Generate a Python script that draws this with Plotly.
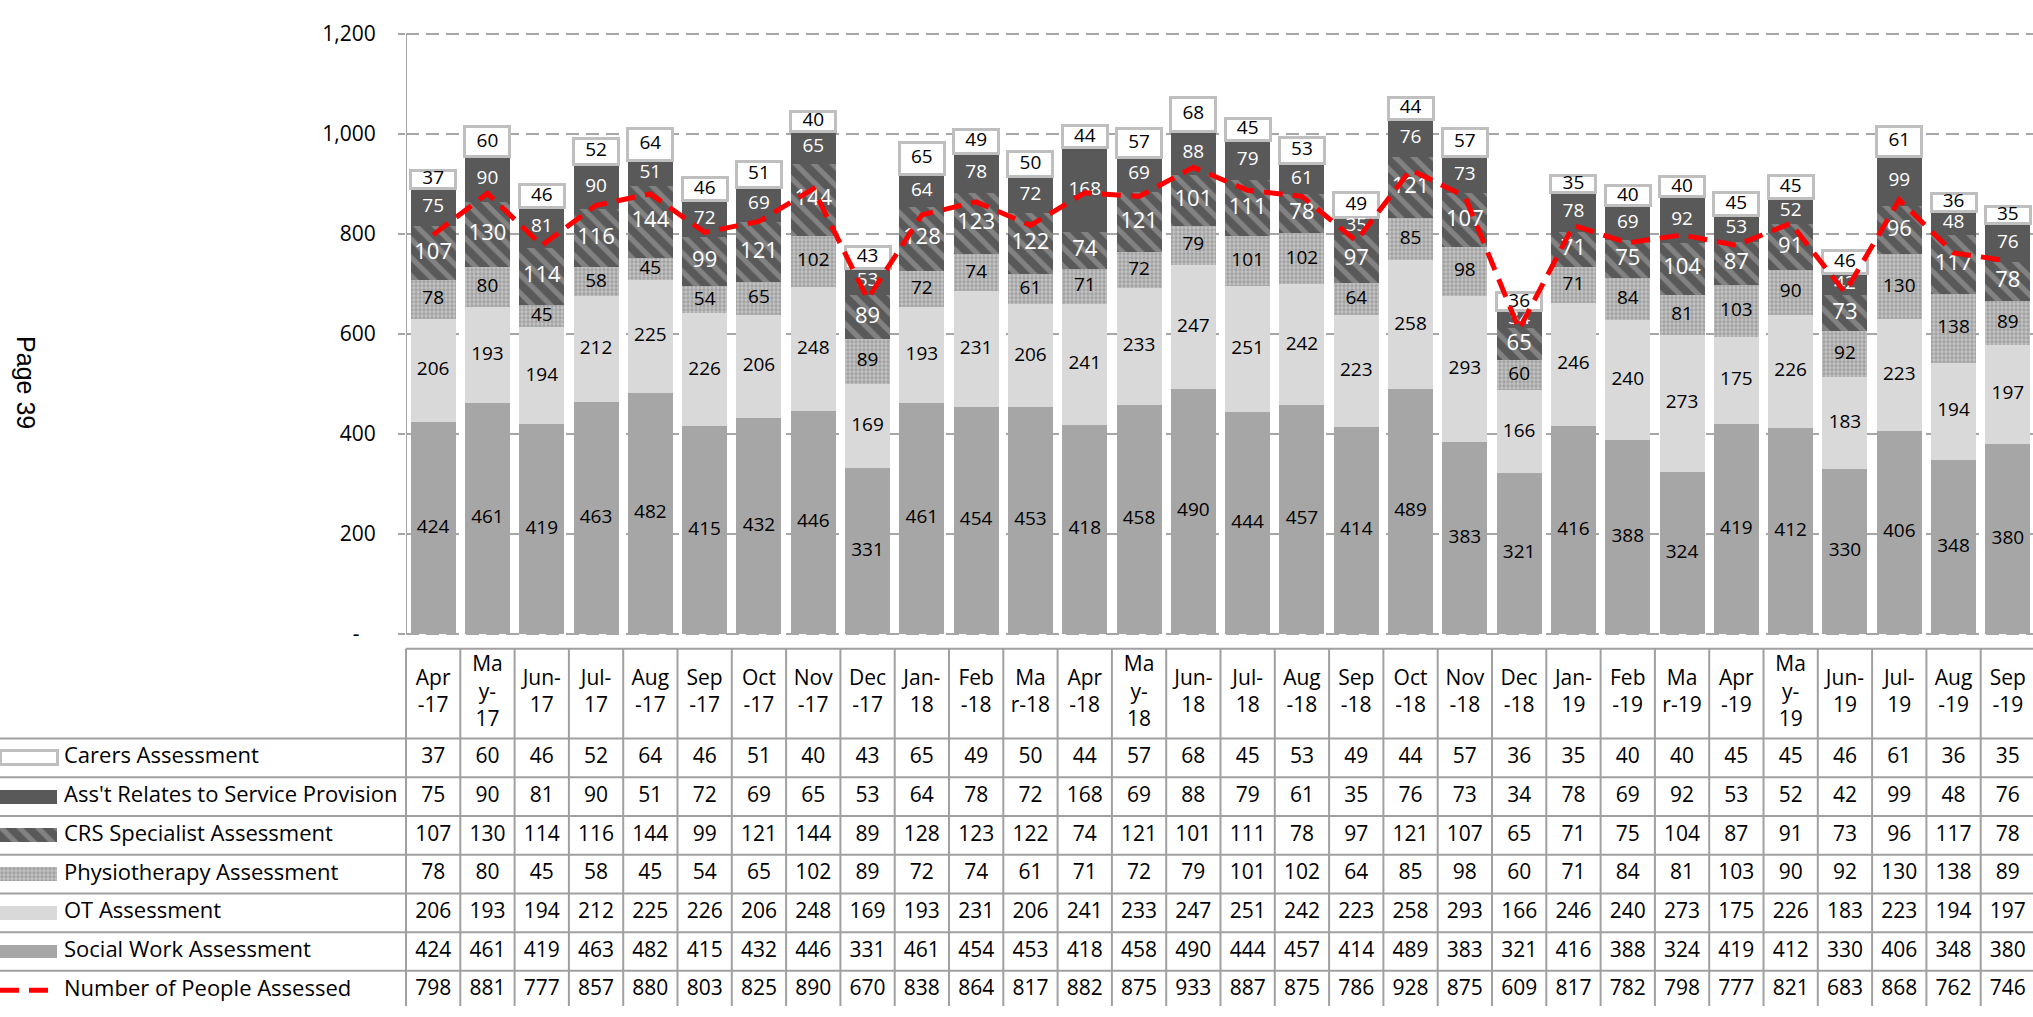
import numpy as np
import plotly.graph_objects as go

# ---------------- data ----------------
months = ["Apr-17", "May-17", "Jun-17", "Jul-17", "Aug-17", "Sep-17", "Oct-17", "Nov-17", "Dec-17",
          "Jan-18", "Feb-18", "Mar-18", "Apr-18", "May-18", "Jun-18", "Jul-18", "Aug-18", "Sep-18",
          "Oct-18", "Nov-18", "Dec-18", "Jan-19", "Feb-19", "Mar-19", "Apr-19", "May-19", "Jun-19",
          "Jul-19", "Aug-19", "Sep-19"]
header_labels = ["Apr<br>-17", "Ma<br>y-<br>17", "Jun-<br>17", "Jul-<br>17", "Aug<br>-17", "Sep<br>-17",
                 "Oct<br>-17", "Nov<br>-17", "Dec<br>-17", "Jan-<br>18", "Feb<br>-18", "Ma<br>r-18",
                 "Apr<br>-18", "Ma<br>y-<br>18", "Jun-<br>18", "Jul-<br>18", "Aug<br>-18", "Sep<br>-18",
                 "Oct<br>-18", "Nov<br>-18", "Dec<br>-18", "Jan-<br>19", "Feb<br>-19", "Ma<br>r-19",
                 "Apr<br>-19", "Ma<br>y-<br>19", "Jun-<br>19", "Jul-<br>19", "Aug<br>-19", "Sep<br>-19"]

carers = [37, 60, 46, 52, 64, 46, 51, 40, 43, 65, 49, 50, 44, 57, 68, 45, 53, 49, 44, 57, 36, 35, 40, 40, 45, 45, 46, 61, 36, 35]
asst_service = [75, 90, 81, 90, 51, 72, 69, 65, 53, 64, 78, 72, 168, 69, 88, 79, 61, 35, 76, 73, 34, 78, 69, 92, 53, 52, 42, 99, 48, 76]
crs_specialist = [107, 130, 114, 116, 144, 99, 121, 144, 89, 128, 123, 122, 74, 121, 101, 111, 78, 97, 121, 107, 65, 71, 75, 104, 87, 91, 73, 96, 117, 78]
physio = [78, 80, 45, 58, 45, 54, 65, 102, 89, 72, 74, 61, 71, 72, 79, 101, 102, 64, 85, 98, 60, 71, 84, 81, 103, 90, 92, 130, 138, 89]
ot = [206, 193, 194, 212, 225, 226, 206, 248, 169, 193, 231, 206, 241, 233, 247, 251, 242, 223, 258, 293, 166, 246, 240, 273, 175, 226, 183, 223, 194, 197]
social_work = [424, 461, 419, 463, 482, 415, 432, 446, 331, 461, 454, 453, 418, 458, 490, 444, 457, 414, 489, 383, 321, 416, 388, 324, 419, 412, 330, 406, 348, 380]
people_assessed = [798, 881, 777, 857, 880, 803, 825, 890, 670, 838, 864, 817, 882, 875, 933, 887, 875, 786, 928, 875, 609, 817, 782, 798, 777, 821, 683, 868, 762, 746]

series_names = ["Carers Assessment", "Ass't Relates to Service Provision", "CRS Specialist Assessment",
                "Physiotherapy Assessment", "OT Assessment", "Social Work Assessment", "Number of People Assessed"]

y_tick_values = [0, 200, 400, 600, 800, 1000, 1200]
y_tick_labels = ["-\u00a0\u00a0\u00a0", "200", "400", "600", "800", "1,000", "1,200"]

# ---------------- geometry (pixels) ----------------
W, H = 2033, 1017
plot_left = 406.0
col_w = 54.3
px_1200, px_0 = 21.3, 636.0
pad_units = 4.0
px_per_unit = (px_0 - px_1200) / 1200.0
plot_top = px_1200 - pad_units * px_per_unit
plot_bottom = px_0 + pad_units * px_per_unit
table_top, header_bottom, row_h = 645.0, 743.0, 39.67
header_line_px = 651.0

x_right = -0.5 + (W - plot_left) / col_w
x2_left = -0.5 - plot_left / col_w
v_top = -(header_bottom - table_top) / row_h
v_header = -(header_bottom - header_line_px) / row_h
v_bottom = (H - header_bottom) / row_h

FONT = "Open Sans"
GRID = "#a6a6a6"
TABLE_LINE = "#a0a0a0"
RED = "#ff0000"
RED_DASH = "19px,10px"

styles = {
    "carers": dict(color="#ffffff", line=dict(color="#bfbfbf", width=3)),
    "asst": dict(color="#595959", line=dict(width=0)),
    "crs": dict(color="#595959", line=dict(width=0),
                pattern=dict(shape="\\", fgcolor="#ababab", bgcolor="#595959", size=13, solidity=0.4)),
    "physio": dict(color="#a9a9a9", line=dict(width=0),
                   pattern=dict(shape=".", fgcolor="#7c7c7c", bgcolor="#c6c6c6", size=4, solidity=0.55)),
    "ot": dict(color="#d9d9d9", line=dict(width=0)),
    "sw": dict(color="#a6a6a6", line=dict(width=0)),
}

x_idx = list(range(len(months)))
stack = [  # bottom to top
    ("sw", social_work, "black", 19),
    ("ot", ot, "black", 19),
    ("physio", physio, "black", 19),
    ("crs", crs_specialist, "white", 22),
    ("asst", asst_service, "white", 19),
    ("carers", carers, "black", 19),
]

fig = go.Figure()

# stacked bars
for key, vals, _, _ in stack:
    fig.add_trace(go.Bar(x=x_idx, y=vals, width=0.83, marker=styles[key],
                         xaxis="x", yaxis="y", hoverinfo="skip", showlegend=False))

# segment labels
cum = np.zeros(len(months))
for key, vals, tcolor, tsize in stack:
    v = np.array(vals, dtype=float)
    mids = cum + v / 2
    cum = cum + v
    fig.add_trace(go.Scatter(x=x_idx, y=mids, mode="text", text=[str(a) for a in vals],
                             textposition="middle center",
                             textfont=dict(family=FONT, size=tsize, color=tcolor),
                             xaxis="x", yaxis="y", hoverinfo="skip", showlegend=False, cliponaxis=False))

# people assessed line
fig.add_trace(go.Scatter(x=x_idx, y=people_assessed, mode="lines",
                         line=dict(color=RED, width=5, dash=RED_DASH),
                         xaxis="x", yaxis="y", hoverinfo="skip", showlegend=False))

# ---------------- data table ----------------
lx, ly = [], []
for k in range(len(months) + 1):
    xv = -0.5 + k
    lx += [xv, xv, None]
    ly += [v_header, v_bottom + 1, None]
lx += [-0.5, x_right + 1, None]
ly += [v_header, v_header, None]
for r in range(len(series_names)):
    lx += [x2_left, x_right + 1, None]
    ly += [r, r, None]
fig.add_trace(go.Scatter(x=lx, y=ly, mode="lines", line=dict(color=TABLE_LINE, width=2),
                         xaxis="x2", yaxis="y2", hoverinfo="skip", showlegend=False))

fig.add_trace(go.Scatter(x=x_idx, y=[v_header / 2] * len(months), mode="text", text=header_labels,
                         textposition="middle center", textfont=dict(family=FONT, size=21, color="black"),
                         xaxis="x2", yaxis="y2", hoverinfo="skip", showlegend=False, cliponaxis=False))

table_rows = [carers, asst_service, crs_specialist, physio, ot, social_work, people_assessed]
for r, vals in enumerate(table_rows):
    fig.add_trace(go.Scatter(x=x_idx, y=[r + 0.5] * len(vals), mode="text", text=[str(a) for a in vals],
                             textposition="middle center", textfont=dict(family=FONT, size=21, color="black"),
                             xaxis="x2", yaxis="y2", hoverinfo="skip", showlegend=False, cliponaxis=False))

# legend keys
sym_w = 57.0 / col_w
legend_keys = ["carers", "asst", "crs", "physio", "ot", "sw"]
for r, key in enumerate(legend_keys):
    fig.add_trace(go.Bar(y=[r + 0.5], x=[sym_w], base=[x2_left], orientation="h", width=0.36,
                         marker=styles[key], xaxis="x2", yaxis="y2", hoverinfo="skip", showlegend=False))
fig.add_trace(go.Scatter(x=[x2_left, x2_left + sym_w], y=[6.5, 6.5], mode="lines",
                         line=dict(color=RED, width=5, dash=RED_DASH),
                         xaxis="x2", yaxis="y2", hoverinfo="skip", showlegend=False))

fig.add_trace(go.Scatter(x=[x2_left + 64.0 / col_w] * len(series_names),
                         y=[r + 0.5 for r in range(len(series_names))], mode="text", text=series_names,
                         textposition="middle right", textfont=dict(family=FONT, size=22, color="black"),
                         xaxis="x2", yaxis="y2", hoverinfo="skip", showlegend=False, cliponaxis=False))

# ---------------- layout ----------------
fig.update_layout(
    width=W, height=H,
    margin=dict(l=0, r=0, t=0, b=0),
    paper_bgcolor="white", plot_bgcolor="white",
    barmode="stack",
    showlegend=False,
    font=dict(family=FONT, color="black"),
    xaxis=dict(domain=[plot_left / W, 1], range=[-0.5, x_right], showgrid=False, zeroline=False,
               showticklabels=False, ticks="", showline=False, fixedrange=True),
    yaxis=dict(domain=[(H - plot_bottom) / H, (H - plot_top) / H], range=[-pad_units, 1200 + pad_units],
               tickvals=y_tick_values, ticktext=y_tick_labels,
               tickfont=dict(family=FONT, size=21, color="black"),
               showgrid=True, gridcolor=GRID, gridwidth=2, griddash="13px,7px",
               zeroline=False, showline=False,
               ticks="outside", ticklen=7, tickwidth=2, tickcolor=GRID, ticklabelstandoff=18,
               fixedrange=True),
    xaxis2=dict(domain=[0, 1], range=[x2_left, x_right], visible=False, anchor="y2"),
    yaxis2=dict(domain=[0, (H - table_top) / H], range=[v_bottom, v_top], visible=False, anchor="x2"),
    shapes=[dict(type="line", xref="x", yref="y", x0=-0.5, x1=-0.5, y0=0, y1=1200,
                 line=dict(color=GRID, width=2), layer="above")],
    annotations=[dict(text="Page 39", x=26 / W, y=(H - 378) / H, xref="paper", yref="paper",
                      xanchor="center", yanchor="middle",
                      showarrow=False, textangle=90, font=dict(family="Liberation Sans", size=25, color="black"))],
)

fig.write_html("out.html", config={"displayModeBar": False},
               post_script="document.body.style.margin='0';document.body.style.overflow='hidden';")
